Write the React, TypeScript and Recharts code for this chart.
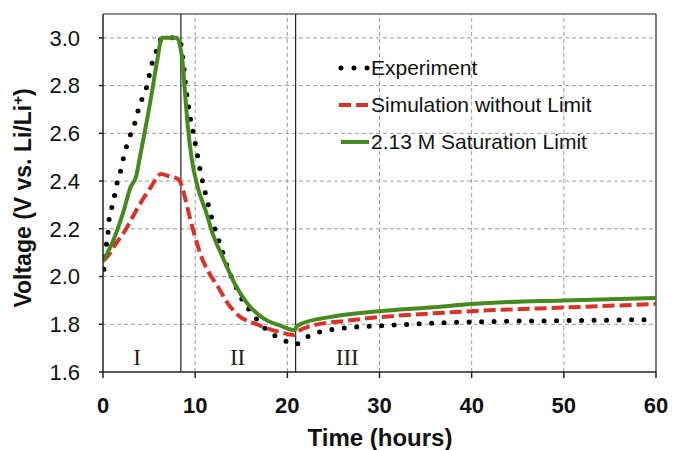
import React from "react";
import { LineChart, Line, XAxis, YAxis, ReferenceLine, ReferenceDot, Legend } from "recharts";

// Experiment (hours, V)
const expHours = [0.1, 0.36, 0.55, 0.65, 0.9, 1.2, 1.45, 1.8, 2.1, 2.35, 2.8, 3.1, 3.6, 3.9, 4.3, 4.7, 5.0, 5.3, 5.6, 5.9, 6.2, 6.6, 7.9, 8.4, 8.7, 9.0, 9.4, 9.7, 10.1, 10.6, 11.2, 11.9, 12.7, 13.6, 14.5, 15.3, 16.1, 17.0, 18.0, 19.2, 20.5, 20.9, 21.4, 22.5, 23.8, 25.2, 27.9, 30.8, 33.3, 36.2, 40, 50, 60];
const expVolts = [2.03, 2.13, 2.18, 2.235, 2.28, 2.33, 2.38, 2.425, 2.475, 2.52, 2.57, 2.61, 2.66, 2.71, 2.75, 2.79, 2.84, 2.89, 2.92, 2.96, 2.99, 3.0, 3.0, 2.98, 2.9, 2.79, 2.68, 2.62, 2.54, 2.435, 2.335, 2.23, 2.135, 2.03, 1.95, 1.89, 1.85, 1.805, 1.77, 1.74, 1.72, 1.715, 1.725, 1.755, 1.77, 1.78, 1.79, 1.795, 1.8, 1.805, 1.81, 1.815, 1.82];

// Simulation without limit
const simHours = [0, 0.8, 1.1, 2.35, 3.8, 5.2, 6.3, 7.2, 8.1, 8.4, 8.9, 9.4, 10.0, 10.7, 11.6, 12.5, 13.5, 14.6, 16.7, 18.9, 20.8, 21.0, 22.8, 26.5, 30, 35.5, 40, 50, 60];
const simVolts = [2.065, 2.1, 2.12, 2.19, 2.29, 2.375, 2.43, 2.42, 2.41, 2.395, 2.33, 2.25, 2.165, 2.08, 2.01, 1.955, 1.89, 1.84, 1.8, 1.77, 1.755, 1.765, 1.795, 1.815, 1.83, 1.845, 1.855, 1.87, 1.885];

// 2.13 M saturation limit
const satHours = [0, 1.1, 2.2, 3.0, 3.6, 4.0, 4.5, 5.3, 5.9, 6.4, 8.0, 8.6, 8.9, 9.2, 9.6, 10.3, 11.1, 11.9, 13.0, 14.5, 15.6, 17.4, 19.2, 20.8, 21.0, 21.4, 24.6, 30, 35.5, 40, 50, 60];
const satVolts = [2.065, 2.15, 2.27, 2.375, 2.42, 2.5, 2.6, 2.77, 2.91, 3.0, 3.0, 2.91, 2.77, 2.63, 2.5, 2.37, 2.28, 2.18, 2.08, 1.955, 1.89, 1.825, 1.795, 1.775, 1.79, 1.8, 1.83, 1.855, 1.87, 1.885, 1.9, 1.91];

const xTicks = [0, 10, 20, 30, 40, 50, 60];
const yTicks = [1.6, 1.8, 2.0, 2.2, 2.4, 2.6, 2.8, 3.0];
const stageBounds = [8.45, 20.9];
const stages = [
  { name: "I", t: 3.7 },
  { name: "II", t: 14.6 },
  { name: "III", t: 26.5 },
];

const toPoints = (hours: number[], volts: number[]) => hours.map((t, i) => ({ t, v: volts[i] }));

const expData = toPoints(expHours, expVolts);
const simData = toPoints(simHours, simVolts);
const satData = toPoints(satHours, satVolts);

const RED = "#d8322b";
const GREEN = "#46891f";
const FONT = "'Liberation Sans', Arial, sans-serif";

const renderLegend = () => {
  const rows = [
    { label: "Experiment", kind: "dot" },
    { label: "Simulation without Limit", kind: "dash" },
    { label: "2.13 M Saturation Limit", kind: "solid" },
  ];
  return (
    <div style={{ fontFamily: FONT, fontSize: 21, color: "#111" }}>
      {rows.map((r) => (
        <div key={r.label} style={{ display: "flex", alignItems: "center", height: 37 }}>
          <svg width={34} height={10}>
            {r.kind === "dot" && (
              <line x1={4} y1={5} x2={31} y2={5} stroke="#000" strokeWidth={5} strokeDasharray="0 13" strokeLinecap="round" />
            )}
            {r.kind === "dash" && <line x1={2} y1={5} x2={32} y2={5} stroke={RED} strokeWidth={4} strokeDasharray="12 5" />}
            {r.kind === "solid" && <line x1={4} y1={5} x2={32} y2={5} stroke={GREEN} strokeWidth={4} />}
          </svg>
          <span>{r.label}</span>
        </div>
      ))}
    </div>
  );
};

const yTitle = () => (
  <text
    x={31}
    y={198}
    transform="rotate(-90, 31, 198)"
    textAnchor="middle"
    fontFamily={FONT}
    fontWeight="bold"
    fontSize={23}
    fill="#111"
  >
    Voltage (V vs. Li/Li
    <tspan dy={-8} fontSize={15}>+</tspan>
    <tspan dy={8}>)</tspan>
  </text>
);

const xTitle = () => (
  <text x={380} y={446} textAnchor="middle" fontFamily={FONT} fontWeight="bold" fontSize={24} fill="#111">
    Time (hours)
  </text>
);

export default function App() {
  return (
    <div style={{ position: "absolute", left: 0, top: 0, background: "#fff" }}>
      <LineChart width={673} height={450} margin={{ top: 14, right: 17, left: 0, bottom: 18 }}>
        <XAxis
          type="number"
          dataKey="t"
          domain={[0, 60]}
          ticks={xTicks}
          height={60}
          tickSize={6}
          tickMargin={19}
          stroke="#222"
          strokeWidth={1.5}
          tick={{ fontSize: 22, fontFamily: FONT, fontWeight: "bold", fill: "#111" }}
          label={xTitle}
          allowDataOverflow
        />
        <YAxis
          type="number"
          dataKey="v"
          domain={[1.6, 3.1]}
          ticks={yTicks}
          width={103}
          tickSize={4}
          tickMargin={19}
          stroke="#222"
          strokeWidth={1.5}
          tickFormatter={(v: number) => v.toFixed(1)}
          tick={{ fontSize: 22, fontFamily: FONT, fill: "#111" }}
          label={yTitle}
          allowDataOverflow
        />
        {/* dashed grid */}
        {yTicks.slice(1).map((v) => (
          <ReferenceLine key={`gy${v}`} y={v} stroke="#9a9a9a" strokeDasharray="4 3" />
        ))}
        {xTicks.slice(1, -1).map((t) => (
          <ReferenceLine key={`gx${t}`} x={t} stroke="#9a9a9a" strokeDasharray="4 3" />
        ))}
        <ReferenceLine y={3.1} stroke="#222" strokeWidth={1.2} />
        <ReferenceLine x={60} stroke="#222" strokeWidth={1.2} />
        {stageBounds.map((t) => (
          <ReferenceLine key={t} x={t} stroke="#222" strokeWidth={1.2} />
        ))}
        {stages.map((s) => (
          <ReferenceDot
            key={s.name}
            x={s.t}
            y={1.665}
            r={0}
            fill="none"
            stroke="none"
            label={{ value: s.name, position: "center", fontFamily: "'Liberation Serif', 'Times New Roman', serif", fontSize: 23, fill: "#222" }}
          />
        ))}
        <Line
          data={expData}
          dataKey="v"
          name="Experiment"
          type="monotone"
          stroke="#000"
          strokeWidth={5}
          strokeDasharray="0 12.5"
          strokeLinecap="round"
          dot={false}
          isAnimationActive={false}
        />
        <Line
          data={simData}
          dataKey="v"
          name="Simulation without Limit"
          type="monotone"
          stroke={RED}
          strokeWidth={4}
          strokeDasharray="12 5"
          dot={false}
          isAnimationActive={false}
        />
        <Line
          data={satData}
          dataKey="v"
          name="2.13 M Saturation Limit"
          type="monotone"
          stroke={GREEN}
          strokeWidth={4}
          dot={false}
          isAnimationActive={false}
        />
        <Legend
          content={renderLegend}
          layout="vertical"
          align="center"
          verticalAlign="middle"
          wrapperStyle={{ left: 337, top: 49, width: "auto" }}
        />
      </LineChart>
    </div>
  );
}
